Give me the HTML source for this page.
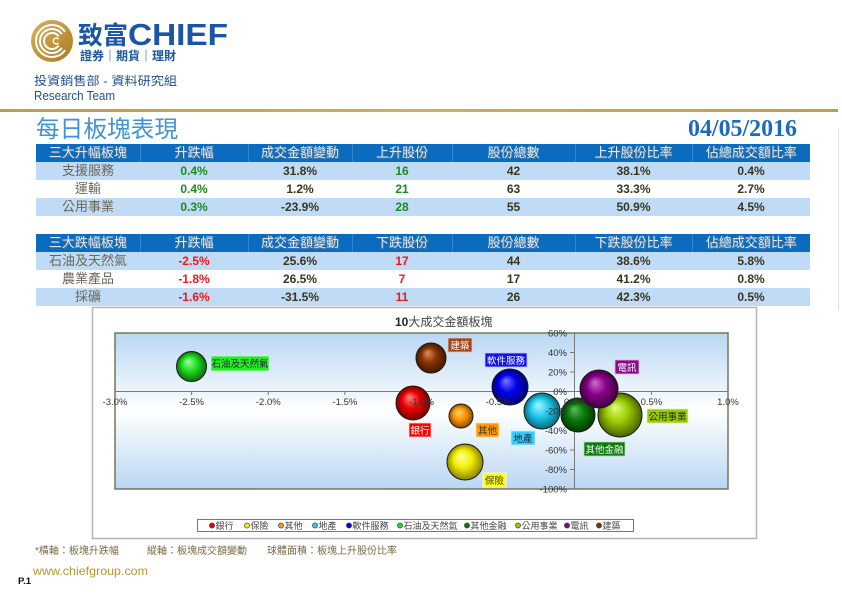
<!DOCTYPE html>
<html><head><meta charset="utf-8">
<style>
html,body{margin:0;padding:0;background:#fff;}
body{width:842px;height:595px;position:relative;overflow:hidden;font-family:"Liberation Sans","Noto Sans CJK TC",sans-serif;}
.abs{position:absolute;}
table.t{position:absolute;left:36px;width:774px;border-collapse:collapse;table-layout:fixed;}
table.t td{padding:0;height:18px;line-height:18px;text-align:center;white-space:nowrap;overflow:hidden;}
tr.h td{background:#0b6cbf;color:#e4eaf1;font-size:13px;text-shadow:1px 1px 0 #4f7696;border-left:1px solid #2f84cc;}
tr.h td:first-child{border-left:none;}
tr.l td{background:#bfdbf5;}
tr.w td{background:#fff;}
td.n{color:#6c6757;font-size:13px;font-family:"Liberation Sans","Noto Sans CJK TC",sans-serif;}
td.g{color:#1e8b1e;font-weight:bold;font-size:12px;}
td.r{color:#f01818;font-weight:bold;font-size:12px;}
td.d{color:#3b3520;font-weight:bold;font-size:12px;}
</style></head><body>

<svg class="abs" style="left:0;top:0" width="842" height="595" viewBox="0 0 842 595" xmlns="http://www.w3.org/2000/svg">
<defs>
<linearGradient id="gold" x1="0" y1="0" x2="1" y2="1">
<stop offset="0" stop-color="#d9b25a"/><stop offset="1" stop-color="#a97a24"/></linearGradient>
<linearGradient id="plotbg" x1="0" y1="0" x2="0" y2="1">
<stop offset="0" stop-color="#b9d7f3"/><stop offset="0.5" stop-color="#ffffff"/><stop offset="1" stop-color="#b9d7f3"/></linearGradient>
<linearGradient id="goldline" x1="0" y1="0" x2="1" y2="0">
<stop offset="0" stop-color="#c39a45"/><stop offset="0.5" stop-color="#d3ad5c"/><stop offset="1" stop-color="#c49c48"/></linearGradient>
<radialGradient id="b1" cx="50%" cy="50%" r="50%" fx="38%" fy="32%"><stop offset="0" stop-color="#ff8a8a"/><stop offset="0.5" stop-color="#ee0000"/><stop offset="1" stop-color="#7a0000"/></radialGradient>
<radialGradient id="b2" cx="50%" cy="50%" r="50%" fx="38%" fy="32%"><stop offset="0" stop-color="#ffffa0"/><stop offset="0.5" stop-color="#f2f000"/><stop offset="1" stop-color="#8a8400"/></radialGradient>
<radialGradient id="b3" cx="50%" cy="50%" r="50%" fx="38%" fy="32%"><stop offset="0" stop-color="#ffd080"/><stop offset="0.5" stop-color="#ff9900"/><stop offset="1" stop-color="#8a5000"/></radialGradient>
<radialGradient id="b4" cx="50%" cy="50%" r="50%" fx="38%" fy="32%"><stop offset="0" stop-color="#b0f4ff"/><stop offset="0.5" stop-color="#22ccee"/><stop offset="1" stop-color="#0a6a80"/></radialGradient>
<radialGradient id="b5" cx="50%" cy="50%" r="50%" fx="38%" fy="32%"><stop offset="0" stop-color="#7a7aff"/><stop offset="0.5" stop-color="#0000ee"/><stop offset="1" stop-color="#000070"/></radialGradient>
<radialGradient id="b6" cx="50%" cy="50%" r="50%" fx="38%" fy="32%"><stop offset="0" stop-color="#a0ffa0"/><stop offset="0.5" stop-color="#22dd22"/><stop offset="1" stop-color="#0a700a"/></radialGradient>
<radialGradient id="b7" cx="50%" cy="50%" r="50%" fx="38%" fy="32%"><stop offset="0" stop-color="#5fbf5f"/><stop offset="0.5" stop-color="#0a7a0a"/><stop offset="1" stop-color="#033a03"/></radialGradient>
<radialGradient id="b8" cx="50%" cy="50%" r="50%" fx="38%" fy="32%"><stop offset="0" stop-color="#e0ff80"/><stop offset="0.5" stop-color="#99cc00"/><stop offset="1" stop-color="#4a6400"/></radialGradient>
<radialGradient id="b9" cx="50%" cy="50%" r="50%" fx="38%" fy="32%"><stop offset="0" stop-color="#d070d0"/><stop offset="0.5" stop-color="#880088"/><stop offset="1" stop-color="#400040"/></radialGradient>
<radialGradient id="b10" cx="50%" cy="50%" r="50%" fx="38%" fy="32%"><stop offset="0" stop-color="#e0905a"/><stop offset="0.5" stop-color="#8b3300"/><stop offset="1" stop-color="#451800"/></radialGradient>
</defs>

<!-- logo -->
<circle cx="52" cy="41" r="21" fill="url(#gold)"/>
<g fill="none" stroke="#fff" stroke-width="2">
<path d="M65.1 31.8 A16 16 0 1 0 65.1 50.2"/>
<path d="M61.8 34.1 A12 12 0 1 0 61.8 47.9"/>
<path d="M58.6 36.4 A8 8 0 1 0 58.6 45.6"/>
</g>
<circle cx="56" cy="41" r="4.5" fill="#c49a3c"/>
<path d="M58.5 39 A3 3 0 1 0 58.5 43" fill="none" stroke="#fff" stroke-width="1.4"/>
<text x="78" y="44" font-family="'Liberation Sans','Noto Sans CJK TC',sans-serif" font-weight="bold" font-size="25" fill="#1b56a6" textLength="50" lengthAdjust="spacingAndGlyphs">致富</text>
<text x="128" y="45" font-family="'Liberation Sans',sans-serif" font-weight="bold" font-size="31" fill="#1b56a6" textLength="100" lengthAdjust="spacingAndGlyphs">CHIEF</text>
<text x="80" y="60" font-family="'Liberation Sans','Noto Sans CJK TC',sans-serif" font-weight="bold" font-size="12" fill="#1b56a6" textLength="96" lengthAdjust="spacingAndGlyphs">證券｜期貨｜理財</text>
<text x="34" y="85" font-family="'Liberation Sans','Noto Sans CJK TC',sans-serif" font-size="12" fill="#244f8c" textLength="143" lengthAdjust="spacingAndGlyphs">投資銷售部 - 資料研究組</text>
<text x="34" y="100" font-family="'Liberation Sans',sans-serif" font-size="12.5" fill="#244f8c" textLength="81" lengthAdjust="spacingAndGlyphs">Research Team</text>

<rect x="0" y="109" width="838" height="3" fill="url(#goldline)"/>
<line x1="838.5" y1="128" x2="838.5" y2="310" stroke="#e2e2e2" stroke-width="1"/>

<text x="36" y="137" font-family="'Liberation Sans','Noto Sans CJK TC',sans-serif" font-size="23.5" fill="#3f93d6" textLength="142" lengthAdjust="spacingAndGlyphs">每日板塊表現</text>
<text x="688" y="136" font-family="'Liberation Serif',serif" font-weight="bold" font-size="24" fill="#1a6bbf" textLength="109" lengthAdjust="spacingAndGlyphs">04/05/2016</text>

<!-- chart box -->
<rect x="92.5" y="307.5" width="664" height="231" fill="#fff" stroke="#b4b4b4" stroke-width="1.5"/>
<text x="395" y="326" font-family="'Liberation Sans','Noto Sans CJK TC',sans-serif" font-size="12" fill="#444"><tspan font-weight="bold" fill="#222">10</tspan>大成交金額板塊</text>

<rect x="115" y="333" width="613" height="156" fill="url(#plotbg)" stroke="#77775a" stroke-width="1.5"/>
<g stroke="#7a7a7a" stroke-width="1">
<line x1="115" y1="391.5" x2="728" y2="391.5"/>
<line x1="574.5" y1="333" x2="574.5" y2="489"/>
<line x1="115" y1="391.5" x2="115" y2="395"/><line x1="191.6" y1="391.5" x2="191.6" y2="395"/>
<line x1="268.3" y1="391.5" x2="268.3" y2="395"/><line x1="344.9" y1="391.5" x2="344.9" y2="395"/>
<line x1="421.5" y1="391.5" x2="421.5" y2="395"/><line x1="498.1" y1="391.5" x2="498.1" y2="395"/>
<line x1="651.4" y1="391.5" x2="651.4" y2="395"/><line x1="728" y1="391.5" x2="728" y2="395"/>
<line x1="570" y1="333" x2="574.5" y2="333"/><line x1="570" y1="352.5" x2="574.5" y2="352.5"/>
<line x1="570" y1="372" x2="574.5" y2="372"/><line x1="570" y1="391.5" x2="574.5" y2="391.5"/>
<line x1="570" y1="411" x2="574.5" y2="411"/><line x1="570" y1="430.5" x2="574.5" y2="430.5"/>
<line x1="570" y1="450" x2="574.5" y2="450"/><line x1="570" y1="469.5" x2="574.5" y2="469.5"/>
<line x1="570" y1="489" x2="574.5" y2="489"/>
</g>

<!-- bubbles -->
<g stroke="#1a1a1a" stroke-width="1">
<circle cx="413" cy="403" r="17" fill="url(#b1)"/>
<circle cx="465" cy="462" r="18" fill="url(#b2)"/>
<circle cx="461" cy="416" r="12" fill="url(#b3)"/>
<circle cx="542" cy="411" r="18" fill="url(#b4)"/>
<circle cx="510" cy="387" r="18" fill="url(#b5)"/>
<circle cx="191.5" cy="366.5" r="15" fill="url(#b6)"/>
<circle cx="578" cy="415" r="17" fill="url(#b7)"/>
<circle cx="620" cy="415" r="22" fill="url(#b8)"/>
<circle cx="599" cy="389" r="19" fill="url(#b9)"/>
<circle cx="431" cy="358" r="15" fill="url(#b10)"/>
</g>

<!-- axis labels -->
<g font-family="'Liberation Sans',sans-serif" font-size="9.5" fill="#333" text-anchor="middle">
<text x="115" y="405">-3.0%</text><text x="191.6" y="405">-2.5%</text><text x="268.3" y="405">-2.0%</text>
<text x="344.9" y="405">-1.5%</text><text x="421.5" y="405">-1.0%</text><text x="498.1" y="405">-0.5%</text>
<text x="574.8" y="405">0.0%</text><text x="651.4" y="405">0.5%</text><text x="728" y="405">1.0%</text>
</g>
<g font-family="'Liberation Sans',sans-serif" font-size="9.5" fill="#333" text-anchor="end">
<text x="567" y="336.5">60%</text><text x="567" y="356">40%</text><text x="567" y="375.5">20%</text>
<text x="567" y="395">0%</text><text x="567" y="414.5">-20%</text><text x="567" y="434">-40%</text>
<text x="567" y="453.5">-60%</text><text x="567" y="473">-80%</text><text x="567" y="492.5">-100%</text>
</g>

<!-- bubble labels -->
<g font-family="'Liberation Sans','Noto Sans CJK TC',sans-serif" font-size="9.5" text-anchor="middle" stroke="none">
<rect x="211" y="356" width="58" height="15" fill="#22ee22" stroke="#c8f8c8" stroke-width="0.8"/><text x="240" y="367" fill="#223">石油及天然氣</text>
<rect x="409" y="423" width="22" height="14" fill="#ff0000" stroke="#ffd0d0" stroke-width="0.8"/><text x="420" y="434" fill="#fff">銀行</text>
<rect x="448" y="338" width="24" height="14" fill="#a0461a" stroke="#e8c8b8" stroke-width="0.8"/><text x="460" y="349" fill="#fff">建築</text>
<rect x="485" y="353" width="42" height="14" fill="#1111ee" stroke="#c8c8ff" stroke-width="0.8"/><text x="506" y="364" fill="#fff">軟件服務</text>
<rect x="476" y="423" width="23" height="14" fill="#ff9900" stroke="#ffe0b0" stroke-width="0.8"/><text x="487.5" y="434" fill="#333">其他</text>
<rect x="483" y="473" width="23" height="14" fill="#ffff00" stroke="#ffffc0" stroke-width="0.8"/><text x="494.5" y="484" fill="#333">保險</text>
<rect x="511" y="431" width="24" height="14" fill="#33ccff" stroke="#c8f0ff" stroke-width="0.8"/><text x="523" y="442" fill="#223">地產</text>
<rect x="584" y="442" width="41" height="14" fill="#0e7a0e" stroke="#b8dcb8" stroke-width="0.8"/><text x="604.5" y="453" fill="#fff">其他金融</text>
<rect x="647" y="409" width="41" height="14" fill="#99cc00" stroke="#e0f0b0" stroke-width="0.8"/><text x="667.5" y="420" fill="#222">公用事業</text>
<rect x="615" y="360" width="24" height="14" fill="#8b0a8b" stroke="#e0b8e0" stroke-width="0.8"/><text x="627" y="371" fill="#fff">電訊</text>
</g>

<!-- legend -->
<rect x="197.5" y="519.5" width="436" height="12" fill="#fff" stroke="#777" stroke-width="1"/>
<g stroke="#333" stroke-width="0.6">
<circle cx="212" cy="525.5" r="2.6" fill="#ee0000"/>
<circle cx="247" cy="525.5" r="2.6" fill="#eeee00"/>
<circle cx="281" cy="525.5" r="2.6" fill="#ff9900"/>
<circle cx="315" cy="525.5" r="2.6" fill="#22ccee"/>
<circle cx="349" cy="525.5" r="2.6" fill="#0000ee"/>
<circle cx="400" cy="525.5" r="2.6" fill="#22dd22"/>
<circle cx="467" cy="525.5" r="2.6" fill="#0a7a0a"/>
<circle cx="518" cy="525.5" r="2.6" fill="#99cc00"/>
<circle cx="567" cy="525.5" r="2.6" fill="#880088"/>
<circle cx="599" cy="525.5" r="2.6" fill="#8b3300"/>
</g>
<g font-family="'Liberation Sans','Noto Sans CJK TC',sans-serif" font-size="9" fill="#444">
<text x="215.5" y="529">銀行</text>
<text x="250.5" y="529">保險</text>
<text x="284.5" y="529">其他</text>
<text x="318.5" y="529">地產</text>
<text x="352.5" y="529">軟件服務</text>
<text x="403.5" y="529">石油及天然氣</text>
<text x="470.5" y="529">其他金融</text>
<text x="521.5" y="529">公用事業</text>
<text x="570.5" y="529">電訊</text>
<text x="602.5" y="529">建築</text>
</g>

<!-- footer -->
<g font-family="'Liberation Sans','Noto Sans CJK TC',sans-serif" font-size="10" fill="#7a6a45">
<text x="35" y="554">*橫軸：板塊升跌幅</text>
<text x="147" y="554">縱軸：板塊成交額變動</text>
<text x="267" y="554">球體面積：板塊上升股份比率</text>
</g>
<text x="33" y="575" font-family="'Liberation Sans',sans-serif" font-size="12" fill="#b8952e" textLength="115" lengthAdjust="spacingAndGlyphs">www.chiefgroup.com</text>
<text x="18" y="584" font-family="'Liberation Sans',sans-serif" font-size="9.5" font-weight="bold" fill="#111">P.1</text>
</svg>

<table class="t" style="top:144px">
<colgroup><col style="width:104px"><col style="width:108px"><col style="width:104px"><col style="width:100px"><col style="width:123px"><col style="width:117px"><col style="width:118px"></colgroup>
<tr class="h"><td>三大升幅板塊</td><td>升跌幅</td><td>成交金額變動</td><td>上升股份</td><td>股份總數</td><td>上升股份比率</td><td>佔總成交額比率</td></tr>
<tr class="l"><td class="n">支援服務</td><td class="g">0.4%</td><td class="d">31.8%</td><td class="g">16</td><td class="d">42</td><td class="d">38.1%</td><td class="d">0.4%</td></tr>
<tr class="w"><td class="n">運輸</td><td class="g">0.4%</td><td class="d">1.2%</td><td class="g">21</td><td class="d">63</td><td class="d">33.3%</td><td class="d">2.7%</td></tr>
<tr class="l"><td class="n">公用事業</td><td class="g">0.3%</td><td class="d">-23.9%</td><td class="g">28</td><td class="d">55</td><td class="d">50.9%</td><td class="d">4.5%</td></tr>
</table>

<table class="t" style="top:234px">
<colgroup><col style="width:104px"><col style="width:108px"><col style="width:104px"><col style="width:100px"><col style="width:123px"><col style="width:117px"><col style="width:118px"></colgroup>
<tr class="h"><td>三大跌幅板塊</td><td>升跌幅</td><td>成交金額變動</td><td>下跌股份</td><td>股份總數</td><td>下跌股份比率</td><td>佔總成交額比率</td></tr>
<tr class="l"><td class="n">石油及天然氣</td><td class="r">-2.5%</td><td class="d">25.6%</td><td class="r">17</td><td class="d">44</td><td class="d">38.6%</td><td class="d">5.8%</td></tr>
<tr class="w"><td class="n">農業產品</td><td class="r">-1.8%</td><td class="d">26.5%</td><td class="r">7</td><td class="d">17</td><td class="d">41.2%</td><td class="d">0.8%</td></tr>
<tr class="l"><td class="n">採礦</td><td class="r">-1.6%</td><td class="d">-31.5%</td><td class="r">11</td><td class="d">26</td><td class="d">42.3%</td><td class="d">0.5%</td></tr>
</table>

</body></html>
